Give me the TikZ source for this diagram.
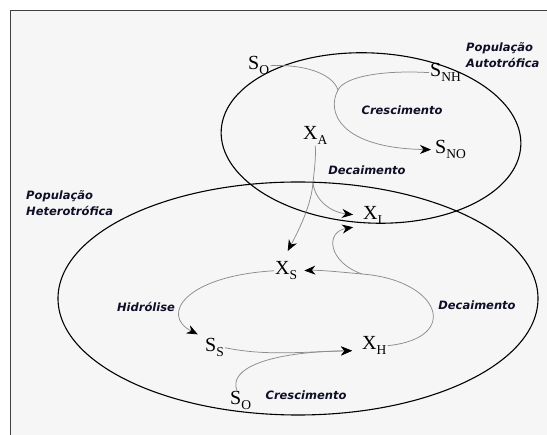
\documentclass[tikz,border=0pt]{standalone}
\usepackage{fontspec}
\setmainfont{Liberation Serif}
\newfontfamily\lblfont{DejaVu Sans}
\usetikzlibrary{arrows.meta}

\definecolor{paper}{RGB}{246,246,246}
\definecolor{ink}{RGB}{15,15,40}

% variable with subscript
\newcommand{\comp}[2]{{\fontsize{20}{20}\selectfont #1}\raisebox{-4.5pt}{\fontsize{13.5}{13.5}\selectfont #2}}

\begin{document}
\begin{tikzpicture}[x=1pt,y=-1pt,
	lbl/.style={font=\lblfont\bfseries\itshape\fontsize{11.5}{16.5}\selectfont, text=ink, inner sep=0pt},
	var/.style={inner sep=1pt, anchor=base west},
	flow/.style={draw=black!45, line width=0.75pt},
	tip/.style={-{Stealth[black,length=11pt,width=9pt,inset=3.5pt]}}]
	
	\useasboundingbox (0,0) rectangle (547,435);
	
	%frame
	\fill[paper] (10.5,11) rectangle (547,435);
	\draw[line width=1pt, black!75] (547,11)--(10.5,11)--(10.5,435);
	
	%populations
	\draw[line width=1.1pt] (371,138) ellipse [x radius=150, y radius=85, rotate=-3];	%autotrophic
	\draw[line width=1.1pt] (298,298.5) ellipse [x radius=240, y radius=116.5];		%heterotrophic
	
	%variables
	\node[var] (SOa) at (247,70)  {\comp{S}{O}};
	\node[var] (SNH) at (429,77)  {\comp{S}{NH}};
	\node[var] (XA)  at (302,140) {\comp{X}{A}};
	\node[var] (SNO) at (434,154) {\comp{S}{NO}};
	\node[var] (XI)  at (362,220) {\comp{X}{I}};
	\node[var] (XS)  at (274,275) {\comp{X}{S}};
	\node[var] (SS)  at (204,352) {\comp{S}{S}};
	\node[var] (XH)  at (361,350) {\comp{X}{H}};
	\node[var] (SOb) at (229,405) {\comp{S}{O}};
	
	%labels
	\node[lbl] (crescA) at (402,110) {Crescimento};
	\node[lbl] (decA)   at (367,170) {Decaimento};
	\node[lbl,align=left,anchor=west] (popA) at (466,55) {População\\Autotrófica};
	\node[lbl,align=left,anchor=west] (popH) at (26,203) {População\\Heterotrófica};
	\node[lbl] (hidr)   at (146,307) {Hidrólise};
	\node[lbl] (decH)   at (477,305) {Decaimento};
	\node[lbl] (crescH) at (306,395) {Crescimento};
	
	%junctions
	\coordinate (M1) at (338,90);
	\coordinate (J1) at (313,183);
	\coordinate (J2) at (362,274);
	
	%autotrophic growth
	\draw[flow] (SOa.east) .. controls (300,64) and (332,72) .. (M1);
	\draw[flow,tip,shorten >=3pt] (SNH.west) .. controls (385,70) and (345,76) .. (M1) .. controls (326,112) and (340,148) .. (SNO.west);
	
	%autotrophic decay
	\draw[flow] (XA.south) .. controls (316,160) and (314,172) .. (J1);
	\draw[flow,tip,shorten >=9pt] (J1) .. controls (315,200) and (330,212) .. (XI.west);
	\draw[flow,tip,shorten >=11pt] (J1) .. controls (311,205) and (300,228) .. (XS.110);
	
	%heterotrophic decay
	\draw[flow,tip,shorten >=6pt] (XH.east) .. controls (462,338) and (440,280) .. (J2) .. controls (340,272) and (320,270) .. (XS.east);
	\draw[flow,tip,shorten >=9pt] (J2) .. controls (328,262) and (325,232) .. (XI.south west);
	
	%hydrolysis
	\draw[flow,tip,shorten >=7pt] (XS.west) .. controls (185,276) and (160,315) .. (SS.north west);
	
	%heterotrophic growth
	\draw[flow,tip,shorten >=9pt] (SS.east) .. controls (265,356) and (300,352) .. (XH.200);
	\draw[flow,tip,shorten >=9pt] (SOb.110) .. controls (228,368) and (270,352) .. (XH.200);
	
\end{tikzpicture}
\end{document}
